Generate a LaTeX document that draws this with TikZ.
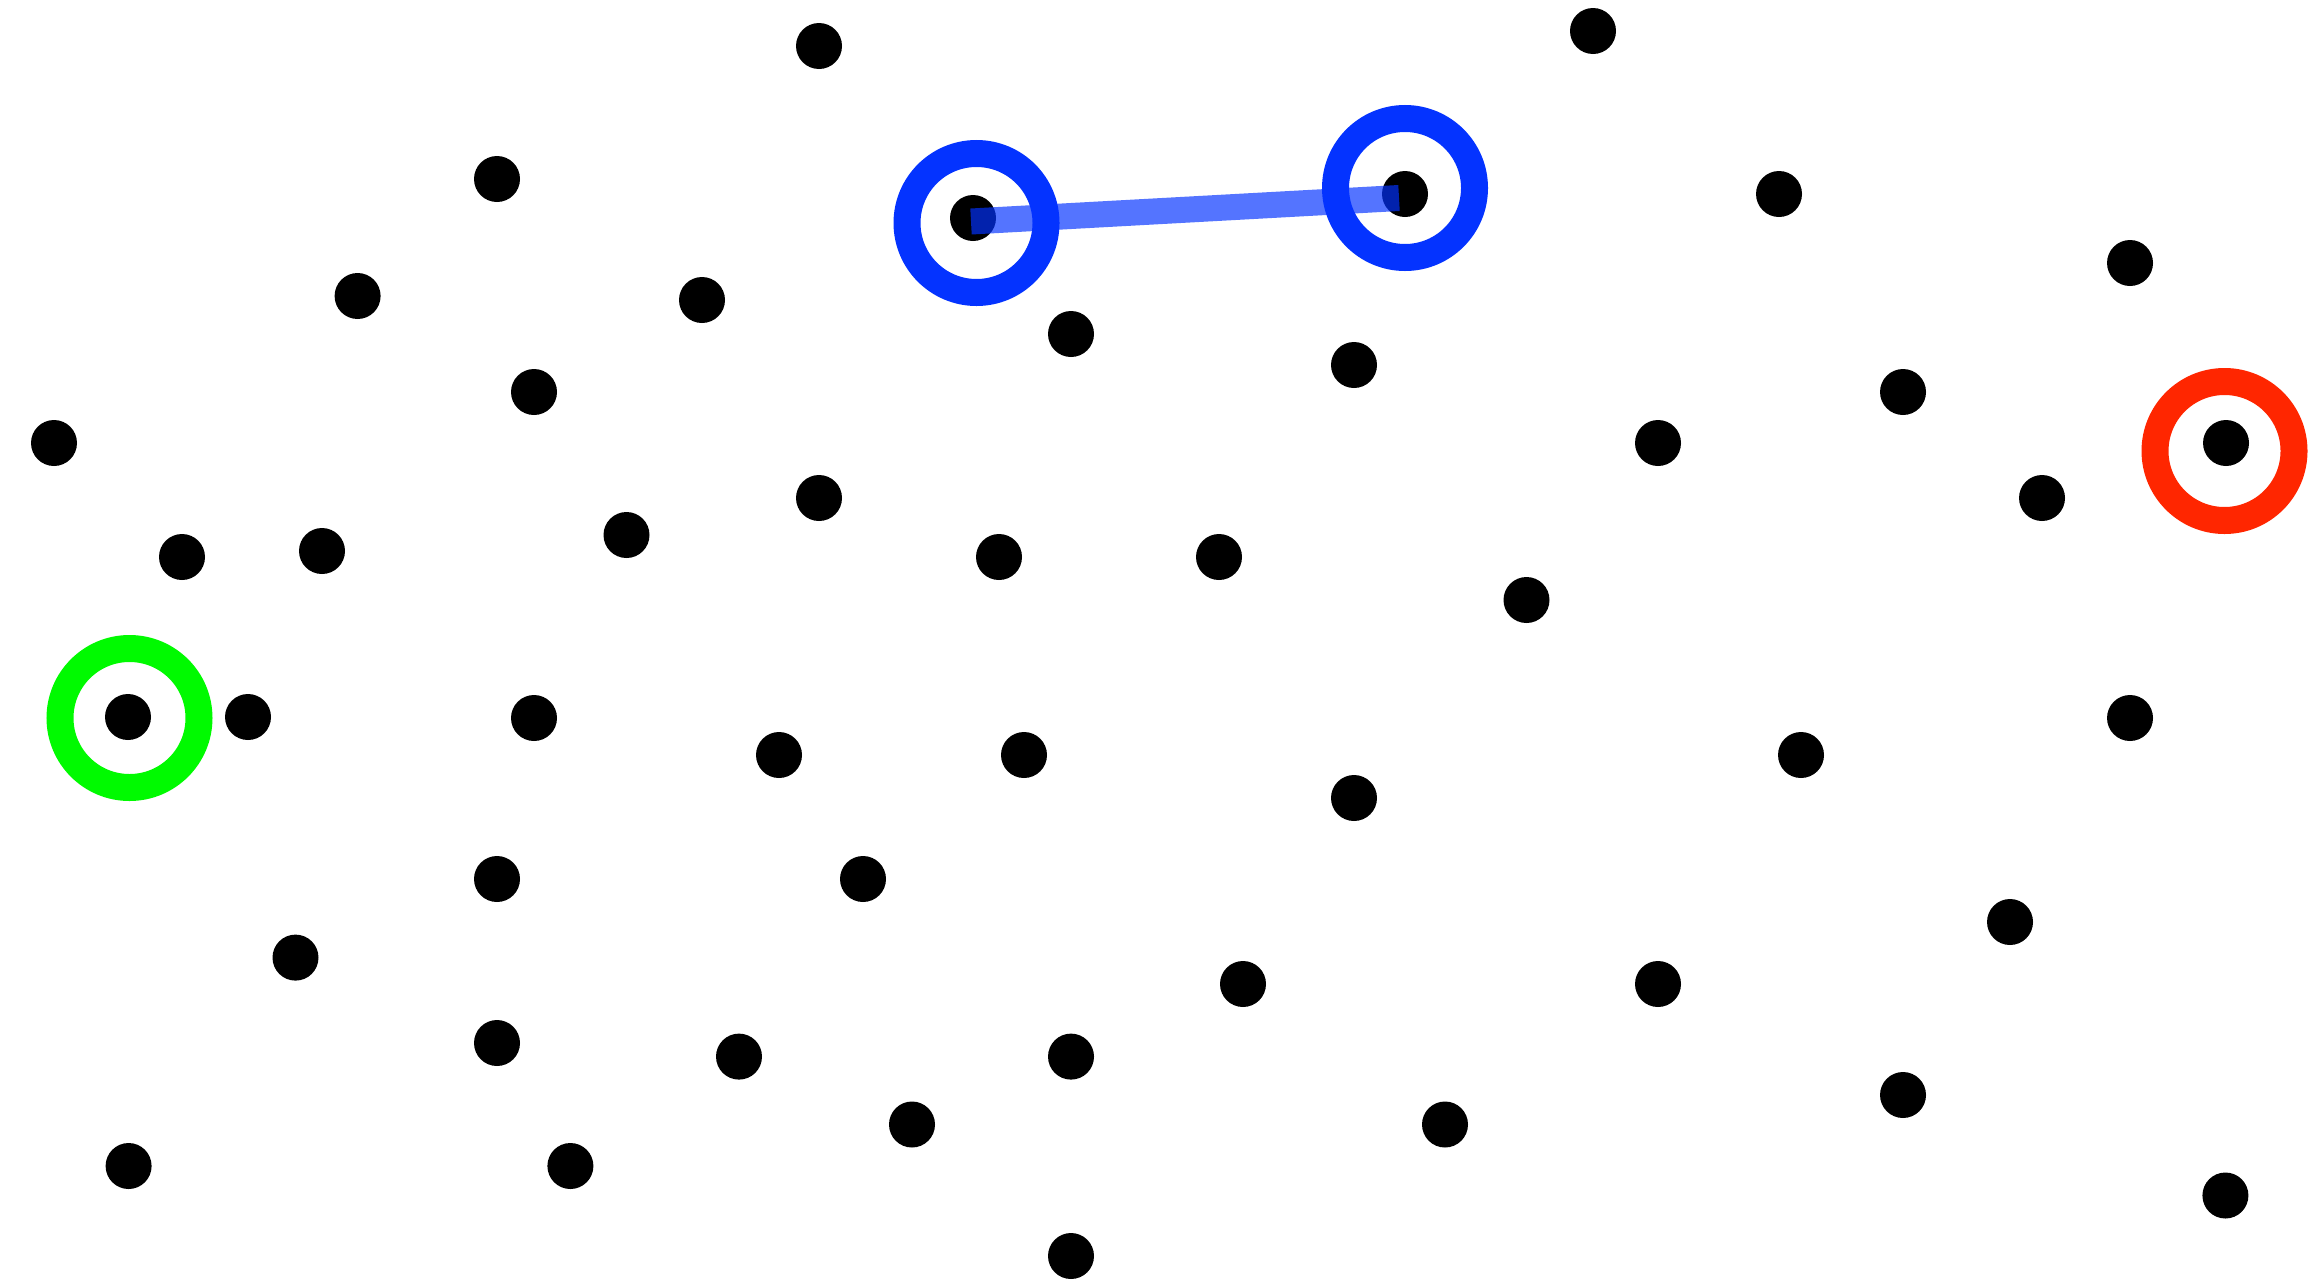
\documentclass[tikz,border=0pt]{standalone}
\usetikzlibrary{positioning}
\definecolor{ringblue}{HTML}{0433FF}
\definecolor{ringred}{HTML}{FF2600}
\definecolor{ringgreen}{HTML}{00FA00}
\tikzset{
  dot/.style={circle,fill=black,draw=none,minimum size=46pt,inner sep=0pt},
  ring/.style={circle,draw=#1,line width=27pt,minimum size=139pt,inner sep=0pt,fill=none},
  link/.style={draw=ringblue,line width=26pt,draw opacity=0.68,line cap=butt}
}
\begin{document}
\begin{tikzpicture}[x=1pt,y=-1pt]
\useasboundingbox[fill=white] (0,0) rectangle (2317,1280);
% dots
\node[dot] (d1) at (819,46) {};
\node[dot] (d2) at (1593,31) {};
\node[dot] (d3) at (497,179) {};
\node[dot] (d4) at (973,218) {};
\node[dot] (d5) at (1405,194) {};
\node[dot] (d6) at (1779,194) {};
\node[dot] (d7) at (2130,263) {};
\node[dot] (d8) at (357.6,296) {};
\node[dot] (d9) at (702,300) {};
\node[dot] (d10) at (1071,334) {};
\node[dot] (d11) at (1354,365) {};
\node[dot] (d12) at (534,392) {};
\node[dot] (d13) at (1903,392) {};
\node[dot] (d14) at (54,443) {};
\node[dot] (d15) at (1658,443) {};
\node[dot] (d16) at (2226,443) {};
\node[dot] (d17) at (819,498) {};
\node[dot] (d18) at (2042,498) {};
\node[dot] (d19) at (626.5,535) {};
\node[dot] (d20) at (182,557) {};
\node[dot] (d21) at (322,551) {};
\node[dot] (d22) at (999,557) {};
\node[dot] (d23) at (1219,557) {};
\node[dot] (d24) at (1526.5,600) {};
\node[dot] (d25) at (128,717) {};
\node[dot] (d26) at (248,717) {};
\node[dot] (d27) at (534,718) {};
\node[dot] (d28) at (2130,718) {};
\node[dot] (d29) at (779,755) {};
\node[dot] (d30) at (1024,755) {};
\node[dot] (d31) at (1801,755) {};
\node[dot] (d32) at (1354,798) {};
\node[dot] (d33) at (497,879) {};
\node[dot] (d34) at (863,879) {};
\node[dot] (d35) at (2010,922) {};
\node[dot] (d36) at (295.5,957.6) {};
\node[dot] (d37) at (1243,984) {};
\node[dot] (d38) at (1658,984) {};
\node[dot] (d39) at (497,1043) {};
\node[dot] (d40) at (739,1056.6) {};
\node[dot] (d41) at (1071,1056.6) {};
\node[dot] (d42) at (1903,1095) {};
\node[dot] (d43) at (912,1124.5) {};
\node[dot] (d44) at (1445,1124.5) {};
\node[dot] (d45) at (128.6,1166) {};
\node[dot] (d46) at (570.4,1166) {};
\node[dot] (d47) at (2225.4,1195.5) {};
\node[dot] (d48) at (1071,1256) {};
% connector
\coordinate (la) at (971,221.5);
\coordinate (lb) at (1399,198);
\draw[link] (la) -- (lb);
% rings
\node[ring=ringblue] (rb1) at (976.5,223) {};
\node[ring=ringblue] (rb2) at (1405,188) {};
\node[ring=ringred] (rr) at (2224.5,451) {};
\node[ring=ringgreen] (rg) at (129.5,718) {};
\end{tikzpicture}
\end{document}
